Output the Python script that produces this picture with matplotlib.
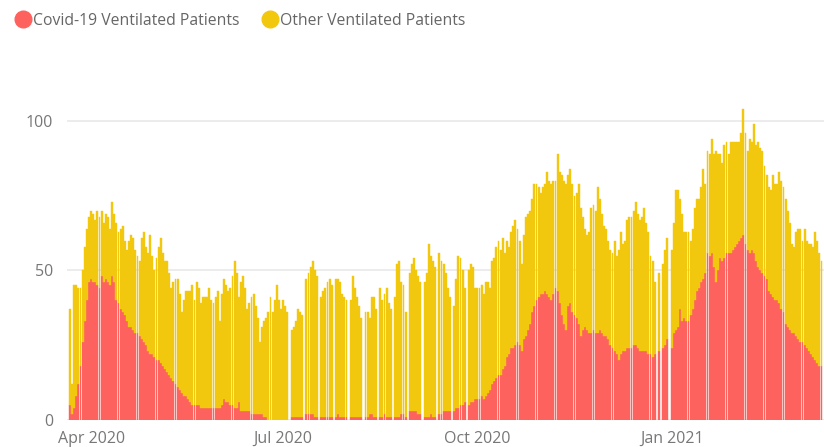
import numpy as np
import pandas as pd
import matplotlib
matplotlib.use("Agg")
import matplotlib.pyplot as plt
import matplotlib.dates as mdates
from matplotlib.lines import Line2D

plt.rcParams["font.family"] = ["Open Sans", "DejaVu Sans"]

# daily counts from 2020-03-22, one row per week (Sun..Sat), None = no report
start_date = "2020-03-22"
covid = [
    5, 2, 4, 8, 12, 18, 26,
    33, 40, 46, 47, 46, 46, 45,
    44, 48, 46, 47, 46, 45, 48,
    46, 40, 39, 37, 36, 35, 33,
    31, 31, 30, 29, 29, 28, 27,
    26, 25, 23, 22, 22, 21, 20,
    20, 19, 18, 17, 16, 15, 14,
    13, 12, 11, 10, 9, 8, 8,
    7, 6, 5, 5, 5, 5, 4,
    4, 4, 4, 4, 4, 4, 4,
    4, 4, 5, 7, 6, 6, 5,
    5, 4, 4, 6, 3, 3, 3,
    3, 3, 2, 2, 2, 2, 2,
    2, 1, 1, 0, 0, 0, 0,
    0, 0, 0, 0, 0, 0, None,
    1, 1, 1, 1, 1, 1, None,
    2, 2, 2, 2, 1, 1, None,
    1, 1, 1, 1, 1, 1, None,
    1, 2, 1, 1, 1, 1, None,
    1, 1, 1, 1, 1, 1, None,
    1, 1, 2, 2, 1, 1, None,
    1, 1, 2, 1, 1, 1, None,
    1, 1, 1, 2, 2, 1, None,
    3, 3, 3, 3, 2, 2, None,
    1, 1, 1, 2, 1, 1, None,
    2, 2, 3, 3, 3, 3, None,
    3, 4, 4, 5, 5, 6, None,
    5, 6, 6, 7, 7, 7, 8,
    7, 8, 9, 10, 12, 13, 14,
    15, 15, 17, 18, 21, 22, 24,
    24, 25, 26, 25, 23, 27, 28,
    30, 32, 36, 38, 40, 41, 42,
    42, 43, 42, 41, 40, 42, 44,
    43, 39, 35, 32, 30, 38, 39,
    36, 35, 34, 32, 28, 30, 31,
    30, 29, 29, 30, 29, 29, 30,
    29, 28, 28, 27, 25, 24, 23,
    22, 20, 22, 23, 23, 24, 24,
    24, 25, 25, 24, 23, 23, 23,
    23, 22, 22, 21, 22, None, 23,
    None, 24, 25, 27, None, 24, 29,
    30, 31, 37, 33, 34, 33, 33,
    35, 37, 40, 43, 44, 46, 47,
    49, 56, 55, 56, 51, 46, 50,
    54, 53, 54, 56, 56, 56, 57,
    58, 59, 60, 61, 62, 59, 57,
    56, 57, 56, 53, 51, 50, 49,
    48, 47, 43, 42, 41, 40, 40,
    39, 37, 36, 32, 31, 30, 29,
    29, 28, 27, 26, 26, 25, 24,
    23, 22, 21, 20, 19, 18, 18,
]
other = [
    32, 10, 41, 37, 32, 26, 24,
    25, 24, 22, 23, 23, 21, 25,
    24, 22, 20, 22, 22, 19, 25,
    23, 26, 24, 27, 29, 25, 24,
    29, 31, 31, 28, 26, 25, 34,
    37, 33, 33, 40, 33, 29, 34,
    38, 42, 38, 36, 37, 34, 30,
    33, 35, 36, 32, 27, 32, 35,
    36, 37, 40, 35, 41, 39, 35,
    37, 37, 37, 40, 36, 35, 37,
    39, 29, 37, 40, 39, 37, 39,
    43, 49, 45, 35, 43, 45, 41,
    34, 36, 39, 40, 36, 32, 24,
    29, 32, 33, 36, 41, 36, 40,
    45, 40, 37, 40, 38, 36, None,
    29, 30, 32, 36, 35, 34, None,
    45, 47, 49, 51, 49, 47, None,
    40, 42, 43, 45, 46, 44, None,
    46, 45, 45, 41, 40, 39, None,
    39, 47, 43, 40, 37, 33, None,
    35, 35, 32, 39, 40, 36, None,
    43, 39, 40, 43, 38, 36, None,
    40, 51, 52, 44, 43, 35, None,
    46, 49, 51, 47, 46, 44, None,
    45, 48, 58, 53, 52, 50, None,
    54, 51, 49, 46, 41, 38, None,
    35, 43, 51, 49, 45, 38, None,
    45, 46, 45, 37, 37, 37, 37,
    35, 38, 37, 34, 41, 41, 44,
    45, 42, 44, 38, 39, 36, 39,
    41, 42, 38, 35, 29, 35, 40,
    39, 38, 38, 41, 39, 37, 34,
    36, 36, 41, 39, 39, 38, 36,
    46, 44, 47, 48, 49, 44, 45,
    43, 40, 42, 47, 43, 38, 33,
    32, 34, 42, 42, 41, 49, 44,
    40, 37, 36, 33, 32, 32, 37,
    33, 37, 41, 36, 37, 43, 44,
    44, 45, 48, 45, 44, 45, 48,
    43, 41, 33, 32, 24, None, 26,
    None, 28, 32, 34, None, 33, 37,
    47, 46, 37, 36, 29, 30, 30,
    25, 27, 31, 31, 30, 32, 37,
    30, 34, 34, 38, 38, 44, 39,
    35, 33, 38, 37, 33, 37, 36,
    35, 34, 33, 35, 42, 37, 33,
    38, 36, 43, 39, 42, 41, 41,
    37, 35, 35, 35, 41, 39, 39,
    44, 43, 42, 42, 39, 36, 30,
    29, 35, 37, 38, 34, 39, 36,
    36, 37, 37, 43, 41, 38, 35,
]
series_names = ["Covid-19 Ventilated Patients", "Other Ventilated Patients"]
series_colors = ["#FD625E", "#F2C80F"]
tick_dates = ["2020-04-01", "2020-07-01", "2020-10-01", "2021-01-01"]
tick_labels = ["Apr 2020", "Jul 2020", "Oct 2020", "Jan 2021"]

covid = np.array(covid, dtype=float)
other = np.array(other, dtype=float)
days = pd.date_range(start_date, periods=len(covid))
x = mdates.date2num(days)

fig = plt.figure(figsize=(8.24, 4.47), dpi=100)
ax = fig.add_axes([67 / 824, 27 / 447, 757 / 824, 329 / 447])

# a thin same-colour edge closes the hairline seams between neighbouring days;
# only skipped days leave a visible gap
bw = 0.88
ax.bar(x, covid, width=bw, color=series_colors[0],
       edgecolor=series_colors[0], linewidth=0.3)
ax.bar(x, other, width=bw, bottom=covid, color=series_colors[1],
       edgecolor=series_colors[1], linewidth=0.3)

ax.set_xlim(x[0] - 1.4, x[0] + 357.2)
ax.set_ylim(0, 110)
ax.set_yticks([0, 50, 100])
ax.set_xticks(mdates.date2num(pd.to_datetime(tick_dates)))
ax.set_xticklabels(tick_labels)

ax.grid(axis="y", color="#E9E9E9", linewidth=1.2)
ax.set_axisbelow(True)
for s in ax.spines.values():
    s.set_visible(False)
ax.tick_params(axis="both", length=0, colors="#777777", labelsize=11.5)
ax.tick_params(axis="y", pad=10)
ax.tick_params(axis="x", pad=8)

handles = [Line2D([], [], marker="o", ls="", ms=12, color=c) for c in series_colors]
leg = fig.legend(handles, series_names, loc="upper left", bbox_to_anchor=(0.012, 0.985),
                 ncol=2, frameon=False, handlelength=0.9, handletextpad=0.2,
                 columnspacing=1.45, fontsize=11.3, borderaxespad=0)
for t in leg.get_texts():
    t.set_color("#666666")

fig.savefig("out.png", dpi=100)
